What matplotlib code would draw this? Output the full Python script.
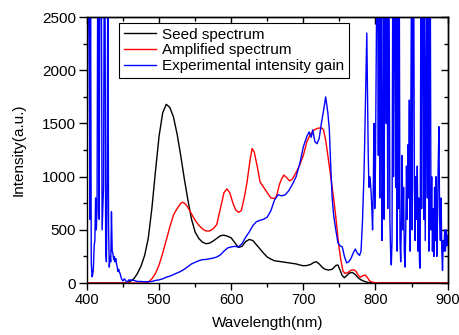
import numpy as np
import matplotlib
matplotlib.use("Agg")
import matplotlib.pyplot as plt
from matplotlib.ticker import MultipleLocator

plt.rcParams['font.family'] = ['Liberation Sans', 'DejaVu Sans']

# Seed spectrum
seed_wl = [400, 450, 455, 460, 465, 470, 475, 480, 485, 490, 495, 500, 505, 510, 515, 520, 525, 530,
           535, 540, 545, 550, 555, 560, 565, 570, 575, 580, 585, 590, 595, 600, 605, 610, 615, 620,
           625, 630, 635, 640, 645, 650, 655, 660, 665, 670, 675, 680, 685, 690, 695, 700, 705, 710,
           715, 718, 722, 726, 730, 735, 740, 745, 748, 751, 754, 757, 760, 764, 768, 772, 776, 780,
           785, 790, 800, 900]
seed_val = [0, 0, 2, 15, 40, 90, 160, 260, 420, 700, 1050, 1380, 1600, 1680, 1650, 1560, 1400, 1200,
            980, 780, 600, 480, 420, 385, 370, 375, 395, 420, 445, 450, 440, 425, 380, 335, 345, 390,
            410, 400, 360, 320, 280, 245, 225, 210, 205, 200, 195, 190, 185, 180, 170, 163, 165, 175,
            195, 200, 180, 150, 130, 122, 130, 165, 170, 120, 70, 50, 70, 95, 100, 80, 50, 30,
            15, 5, 0, 0]

# Amplified spectrum
amp_wl = [400, 480, 485, 490, 495, 500, 505, 510, 515, 520, 525, 530, 533, 537, 540, 545, 550, 555,
          560, 565, 570, 575, 580, 585, 590, 594, 598, 602, 606, 610, 614, 618, 622, 626, 629, 632,
          636, 640, 645, 650, 655, 660, 663, 667, 670, 673, 677, 681, 685, 690, 695, 700, 705, 710,
          715, 720, 725, 728, 731, 734, 737, 740, 743, 746, 749, 752, 755, 758, 762, 766, 770, 773,
          776, 779, 783, 786, 789, 792, 795, 800, 900]
amp_val = [0, 0, 8, 40, 90, 170, 280, 404, 530, 640, 700, 750, 760, 740, 710, 650, 590, 545,
           510, 490, 490, 510, 550, 700, 850, 885, 850, 760, 690, 665, 680, 800, 950, 1150, 1265, 1230,
           1100, 950, 900, 850, 800, 795, 820, 930, 980, 1015, 990, 960, 980, 1040, 1110, 1200, 1330, 1400,
           1440, 1455, 1460, 1440, 1344, 1200, 1050, 900, 740, 560, 360, 220, 110, 90, 100, 120, 125, 110,
           75, 55, 70, 75, 50, 20, 10, 3, 0]

# Experimental intensity gain
gain_left_wl = list(range(400, 461))
gain_left_val = [400, 2280, 3000, 3000, 600, 3000, 200, 60, 80, 150, 350, 400, 800, 500, 700, 3000,
                 3000, 600, 3000, 3000, 3000, 500, 700, 900, 3000, 3000, 300, 200, 1000, 3000, 500,
                 150, 250, 200, 670, 300, 280, 220, 250, 200, 230, 180, 150, 110, 130, 100, 90, 60,
                 40, 30, 20, 30, 40, 30, 20, 15, 10, 20, 30, 25, 30]
gain_mid_wl = [465, 470, 475, 480, 485, 490, 495, 500, 505, 510, 515, 520, 525, 530, 535, 540, 545,
               550, 555, 560, 565, 570, 575, 580, 585, 590, 595, 600, 605, 610, 615, 620, 625, 630,
               635, 640, 645, 650, 655, 660, 665, 670, 675, 680, 685, 690, 695, 700, 705, 708, 711,
               713, 716, 719, 722, 725, 728, 731, 734, 736, 738, 740, 742, 745, 748, 751, 754, 757,
               760, 763, 766, 769, 772, 775, 778]
gain_mid_val = [25, 15, 15, 12, 12, 15, 25, 30, 40, 55, 65, 80, 95, 110, 130, 155, 180,
                195, 210, 220, 222, 228, 235, 245, 265, 300, 330, 340, 345, 340, 370, 430, 480, 540,
                577, 590, 600, 620, 680, 780, 830, 820, 830, 870, 930, 1000, 1120, 1280, 1380, 1420, 1370,
                1440, 1330, 1310, 1360, 1500, 1620, 1750, 1600, 1450, 1100, 800, 640, 500, 380, 350, 340, 250,
                190, 200, 230, 280, 320, 280, 260]
gain_right_wl = list(range(780, 901))
gain_right_val = [300, 450, 580, 800, 1000, 1300, 1650, 2000, 2350, 1800, 1200, 900, 1000, 950, 850,
                  700, 500, 900, 1500, 700, 1100, 2000, 3000, 3000, 1200, 3000, 800, 3000, 3000, 400,
                  900, 3000, 600, 3000, 3000, 1500, 3000, 700, 3000, 2500, 600, 300, 170, 400, 3000,
                  1000, 3000, 3000, 900, 3000, 300, 3000, 700, 3000, 400, 200, 600, 1200, 500, 900,
                  300, 150, 500, 1100, 600, 1300, 800, 1720, 300, 1500, 3000, 500, 3000, 3000, 900,
                  400, 1000, 600, 1100, 300, 800, 200, 140, 3000, 700, 3000, 3000, 600, 3000, 400,
                  1600, 3000, 800, 3000, 300, 3000, 3000, 500, 1000, 300, 700, 250, 900, 400, 1000,
                  250, 600, 1100, 1470, 600, 400, 800, 300, 120, 400, 300, 500, 300, 500, 350, 450]

gain_wl = gain_left_wl + gain_mid_wl + gain_right_wl
gain_val = gain_left_val + gain_mid_val + gain_right_val

x_ticks = [400, 500, 600, 700, 800, 900]
y_ticks = [0, 500, 1000, 1500, 2000, 2500]

fig = plt.figure(figsize=(4.6, 3.35), dpi=100)
ax = fig.add_axes([0.189, 0.155, 0.784, 0.794])

ax.plot(seed_wl, seed_val, color='black', lw=1.0, label='Seed spectrum')
ax.plot(amp_wl, amp_val, color='#ff0000', lw=1.0, label='Amplified spectrum')
ax.plot(gain_wl, gain_val, color='#0000ff', lw=1.0, label='Experimental intensity gain')

ax.set_xlim(400, 900)
ax.set_ylim(0, 2500)
ax.set_xticks(x_ticks)
ax.set_yticks(y_ticks)
ax.xaxis.set_minor_locator(MultipleLocator(50))
ax.yaxis.set_minor_locator(MultipleLocator(250))
# left/bottom: outward ticks with labels
ax.tick_params(which='both', direction='out', top=False, right=False, labelsize=11, width=1)
ax.tick_params(which='major', length=5)
ax.tick_params(which='minor', length=3)
ax.tick_params(axis='x', pad=2.5, labelsize=10.5)
ax.tick_params(axis='y', pad=2)
ax.tick_params(axis='y', which='major', length=6)

# top/right: inward ticks without labels
top = ax.secondary_xaxis('top')
top.set_xticks(x_ticks)
top.xaxis.set_minor_locator(MultipleLocator(50))
top.tick_params(which='both', direction='in', labeltop=False, width=1)
top.tick_params(which='major', length=5)
top.tick_params(which='minor', length=3)
right = ax.secondary_yaxis('right')
right.set_yticks(y_ticks)
right.yaxis.set_minor_locator(MultipleLocator(250))
right.tick_params(which='both', direction='in', labelright=False, width=1)
right.tick_params(which='major', length=5)
right.tick_params(which='minor', length=3)
for a in (ax, top, right):
    for s in a.spines.values():
        s.set_linewidth(1.0)

ax.set_xlabel('Wavelength(nm)', fontsize=11, labelpad=6)
ax.set_ylabel('Intensity(a.u.)', fontsize=11, labelpad=12)

leg = ax.legend(loc='upper left', bbox_to_anchor=(0.09, 0.978), borderaxespad=0, fontsize=11,
                frameon=True, fancybox=False, edgecolor='black', framealpha=1,
                handlelength=2.1, handletextpad=0.4, labelspacing=0.12, borderpad=0.3)
leg.get_frame().set_linewidth(0.8)

fig.savefig('out.png', dpi=100)
